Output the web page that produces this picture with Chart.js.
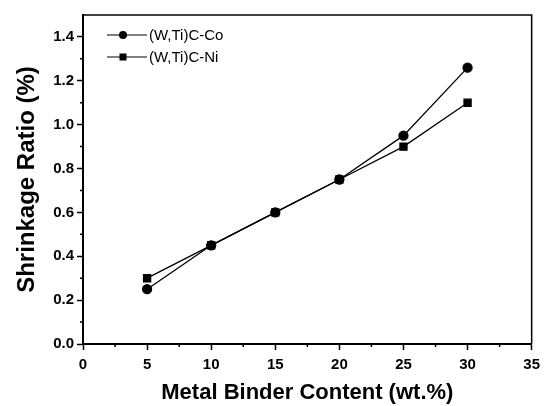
<!DOCTYPE html>
<html>
<head>
<meta charset="utf-8">
<script src="https://cdn.jsdelivr.net/npm/chart.js@4"></script>
<style>
  body { margin: 0; background: #fff; }
</style>
</head>
<body>
<canvas id="shrinkChart" width="546" height="406"></canvas>
<script>
const binderContent = [5, 10, 15, 20, 25, 30];
const shrinkCo = [0.25, 0.45, 0.60, 0.75, 0.95, 1.26];
const shrinkNi = [0.30, 0.45, 0.60, 0.75, 0.90, 1.10];
const seriesNames = ['(W,Ti)C-Co', '(W,Ti)C-Ni'];
const xTicks = [0, 5, 10, 15, 20, 25, 30, 35];
const yTicks = [0, 0.2, 0.4, 0.6, 0.8, 1.0, 1.2, 1.4];
const xMinor = [2.5, 7.5, 12.5, 17.5, 22.5, 27.5, 32.5];
const yMinor = [0.1, 0.3, 0.5, 0.7, 0.9, 1.1, 1.3];

const toPoints = (ys) => binderContent.map((x, i) => ({ x: x, y: ys[i] }));
const FONT = '"Liberation Sans", Arial, sans-serif';

// frame, minor ticks and legend drawn on top of the chart
const extras = {
    id: 'extras',
    afterDraw(chart) {
        const ctx = chart.ctx;
        const area = chart.chartArea;
        const xs = chart.scales.x;
        const ys = chart.scales.y;
        ctx.save();
        ctx.strokeStyle = '#000';
        ctx.lineWidth = 1.5;
        ctx.beginPath();
        ctx.moveTo(area.left, area.top);
        ctx.lineTo(area.right, area.top);
        ctx.lineTo(area.right, area.bottom);
        ctx.stroke();

        ctx.beginPath();
        for (let v of xMinor) {
            const px = xs.getPixelForValue(v);
            ctx.moveTo(px, area.bottom);
            ctx.lineTo(px, area.bottom + 3);
        }
        for (let v of yMinor) {
            const py = ys.getPixelForValue(v);
            ctx.moveTo(area.left, py);
            ctx.lineTo(area.left - 3, py);
        }
        ctx.stroke();

        // legend
        ctx.font = '15px ' + FONT;
        ctx.textBaseline = 'middle';
        ctx.fillStyle = '#000';
        chart.data.datasets.forEach((ds, i) => {
            const y = area.top + 20 + i * 22;
            const x0 = area.left + 24;
            ctx.lineWidth = 1.2;
            ctx.beginPath();
            ctx.moveTo(x0, y);
            ctx.lineTo(x0 + 40, y);
            ctx.stroke();
            if (ds.pointStyle === 'rect') {
                ctx.fillRect(x0 + 16 - 3.5, y - 3.5, 7, 7);
            } else {
                ctx.beginPath();
                ctx.arc(x0 + 16, y, 4, 0, Math.PI * 2);
                ctx.fill();
            }
            ctx.fillText(ds.label, x0 + 42, y + 1);
        });
        ctx.restore();
    }
};

const ctx = document.getElementById('shrinkChart').getContext('2d');
//eslint-disable-next-line no-undef
new Chart(ctx, {
    type: 'scatter',
    data: {
        datasets: [{
            label: seriesNames[0],
            data: toPoints(shrinkCo),
            showLine: true,
            borderColor: '#000',
            backgroundColor: '#000',
            borderWidth: 1.3,
            pointStyle: 'circle',
            pointRadius: 4.5,
            pointHoverRadius: 4.5
        }, {
            label: seriesNames[1],
            data: toPoints(shrinkNi),
            showLine: true,
            borderColor: '#000',
            backgroundColor: '#000',
            borderWidth: 1.3,
            pointStyle: 'rect',
            pointRadius: 5,
            pointHoverRadius: 5
        }]
    },
    options: {
        responsive: false,
        animation: false,
        layout: { padding: { left: 0, right: 14, top: 15, bottom: 0 } },
        plugins: {
            legend: { display: false },
            tooltip: { enabled: false }
        },
        scales: {
            x: {
                type: 'linear',
                min: 0,
                max: 35,
                afterBuildTicks: (scale) => { scale.ticks = xTicks.map(v => ({ value: v })); },
                afterFit: (scale) => { scale.height = 62; },
                border: { color: '#000', width: 2 },
                grid: { drawOnChartArea: false, drawTicks: true, tickLength: 6, tickColor: '#000', tickWidth: 1.5 },
                ticks: {
                    color: '#000',
                    padding: 6,
                    maxRotation: 0,
                    font: { family: FONT, size: 15, weight: 'bold' }
                },
                title: {
                    display: true,
                    text: 'Metal Binder Content (wt.%)',
                    color: '#000',
                    padding: { top: 4, bottom: 0 },
                    font: { family: FONT, size: 22, weight: 'bold' }
                }
            },
            y: {
                min: 0,
                max: 1.5,
                afterBuildTicks: (scale) => { scale.ticks = yTicks.map(v => ({ value: v })); },
                afterFit: (scale) => { scale.width = 83; },
                border: { color: '#000', width: 2 },
                grid: { drawOnChartArea: false, drawTicks: true, tickLength: 6, tickColor: '#000', tickWidth: 1.5 },
                ticks: {
                    color: '#000',
                    padding: 3,
                    callback: (v) => v.toFixed(1),
                    font: { family: FONT, size: 15, weight: 'bold' }
                },
                title: {
                    display: true,
                    text: 'Shrinkage Ratio (%)',
                    color: '#000',
                    padding: { top: 13, bottom: 4 },
                    font: { family: FONT, size: 24, weight: 'bold' }
                }
            }
        }
    },
    plugins: [extras]
});
</script>
</body>
</html>
